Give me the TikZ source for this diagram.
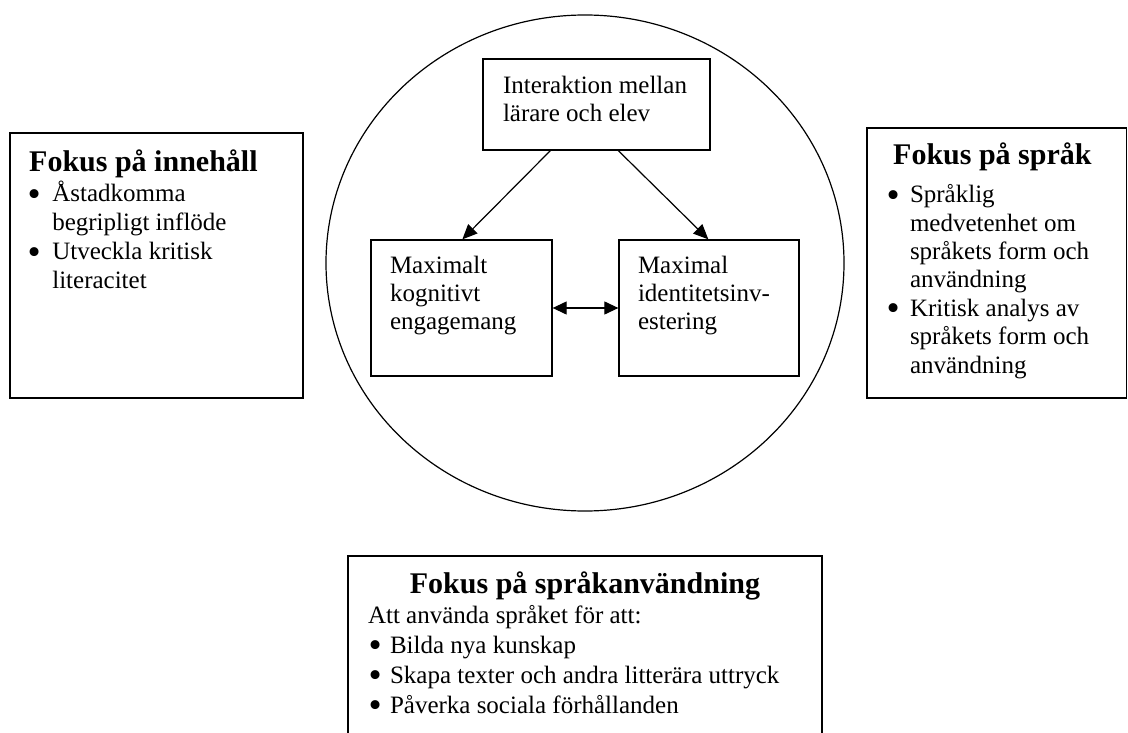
\documentclass[tikz,border=0pt]{standalone}
\usepackage{fontspec}
\setmainfont{Liberation Serif}
\usetikzlibrary{arrows.meta,fit,shapes.geometric}
\setlength{\lineskiplimit}{-50pt}
\setlength{\lineskip}{0pt}
\tikzset{
  x=1pt, y=-1pt,
  frame/.style={draw, line width=1.3pt, inner sep=0pt},
  body/.style={inner sep=0pt, outer sep=0pt, align=left, anchor=north west,
    font=\fontsize{25}{#1}\selectfont},
  body/.default=28.3,
  head/.style={inner sep=0pt, font=\fontsize{30}{33}\selectfont\bfseries},
  conn/.style={line width=1.2pt, -{Triangle[length=15pt,width=13pt]}},
  dconn/.style={line width=1.2pt, {Triangle[length=14pt,width=13pt]}-{Triangle[length=14pt,width=13pt]}}
}
\newcommand{\bl}[2]{\makebox[#1pt][l]{\hspace*{#2pt}\smash{\raisebox{-4.6pt}{\scalebox{1.5}{\textbullet}}}}}
\newcommand{\ind}[1]{\hspace*{#1pt}}
\newcommand{\st}{\rule{0pt}{24pt}}
\begin{document}
\begin{tikzpicture}
\useasboundingbox (0,0) rectangle (1128,733);
\fill[white] (0,0) rectangle (1128,733);
\clip (0,0) rectangle (1128,733);

% circle
\node[draw, ellipse, line width=1.2pt, inner sep=0pt, minimum width=518pt, minimum height=496pt] (circ) at (585,263) {};

% frames
\node[frame, fit={(10,133) (303,398)}] (left) {};
\node[frame, fit={(867,128) (1126.5,398)}] (right) {};
\node[frame, fit={(483,59) (710,150)}] (top) {};
\node[frame, fit={(371,240) (552,376)}] (lbox) {};
\node[frame, fit={(619,240) (799,376)}] (rbox) {};
\node[frame, fit={(348,556) (822,745)}] (bottom) {};

% left box text
\node[head, anchor=base west] (lhead) at (29,171.7) {Fokus på innehåll};
\node[body=28.9] (ltext) at (29,177.7) {\st\bl{23.3}{-1.4}Åstadkomma\\
\ind{23.3}begripligt inflöde\\
\bl{23.3}{-1.4}Utveckla kritisk\\
\ind{23.3}literacitet};

% right box text
\node[head, anchor=base west] (rhead) at (893,165) {Fokus på språk};
\node[body=28.4] (rtext) at (888.6,178.7) {\st\bl{21.4}{-2}Språklig\\
\ind{21.4}medvetenhet om\\
\ind{21.4}språkets form och\\
\ind{21.4}användning\\
\bl{21.4}{-2}Kritisk analys av\\
\ind{21.4}språkets form och\\
\ind{21.4}användning};

% center boxes text
\node[body] (ttext) at (503,69.3) {\st Interaktion mellan\\lärare och elev};
\node[body] (lbtext) at (390,249.3) {\st Maximalt\\kognitivt\\engagemang};
\node[body] (rbtext) at (638,249.3) {\st Maximal\\identitetsinv-\\estering};

% bottom box text
\node[head, anchor=base] (bhead) at (585,593.3) {Fokus på språkanvändning};
\node[body=30] (btext) at (368,599.3) {\st Att använda språket för att:\\
\bl{22}{0.6}Bilda nya kunskap\\
\bl{22}{0.6}Skapa texter och andra litterära uttryck\\
\bl{22}{0.6}Påverka sociala förhållanden};

% connectors
\draw[conn] ([xshift=68pt]top.south west) -- ([xshift=92pt]lbox.north west);
\draw[conn] ([xshift=136pt]top.south west) -- ([xshift=90pt]rbox.north west);
\draw[dconn] (lbox.east) -- (rbox.west);
\end{tikzpicture}
\end{document}
